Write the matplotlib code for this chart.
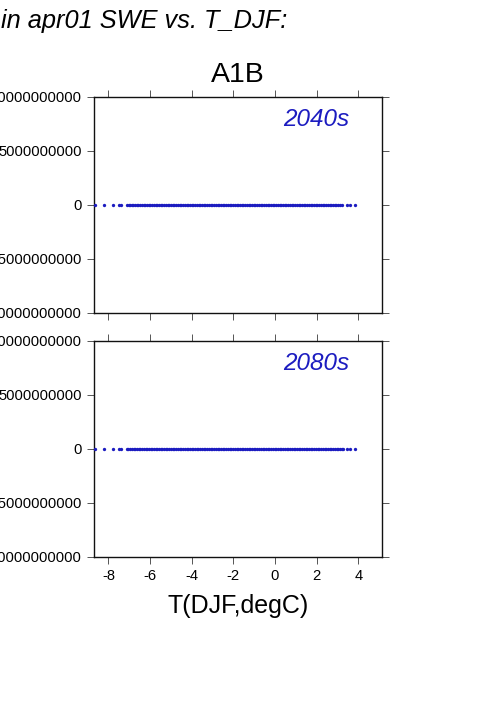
import numpy as np
import matplotlib
matplotlib.use('Agg')
import matplotlib.pyplot as plt

plt.rcParams['font.family'] = ['Liberation Sans', 'DejaVu Sans']

# T_DJF values (degC), SWE change is zero everywhere
t_djf_2040 = [-8.66, -8.21, -7.78, -7.50, -7.38, -7.10, -7.03, -6.95, -6.87, -6.80,
              -6.72, -6.63, -6.56, -6.47, -6.39, -6.31, -6.23, -6.14, -6.06, -5.99,
              -5.90, -5.82, -5.74, -5.65, -5.57, -5.49, -5.41, -5.33, -5.24, -5.16,
              -5.08, -5.00, -4.91, -4.83, -4.75, -4.66, -4.58, -4.51, -4.42, -4.34,
              -4.25, -4.17, -4.09, -4.01, -3.92, -3.84, -3.76, -3.67, -3.59, -3.51,
              -3.43, -3.34, -3.26, -3.18, -3.09, -3.01, -2.93, -2.85, -2.76, -2.68,
              -2.60, -2.51, -2.43, -2.35, -2.27, -2.18, -2.10, -2.02, -1.93, -1.85,
              -1.77, -1.69, -1.60, -1.52, -1.44, -1.35, -1.27, -1.19, -1.11, -1.02,
              -0.94, -0.86, -0.77, -0.69, -0.61, -0.53, -0.44, -0.36, -0.28, -0.19,
              -0.11, -0.03, 0.05, 0.14, 0.22, 0.30, 0.39, 0.47, 0.55, 0.63,
              0.72, 0.80, 0.88, 0.97, 1.05, 1.13, 1.21, 1.30, 1.38, 1.46,
              1.55, 1.63, 1.71, 1.79, 1.88, 1.96, 2.04, 2.13, 2.21, 2.29,
              2.37, 2.46, 2.54, 2.62, 2.71, 2.79, 2.87, 2.95, 3.04, 3.12,
              3.23, 3.44, 3.60, 3.84]
swe_2040 = np.zeros(len(t_djf_2040))

t_djf_2080 = [-8.66, -8.21, -7.78, -7.50, -7.38, -7.12, -7.04, -6.96, -6.88, -6.79,
              -6.71, -6.64, -6.55, -6.47, -6.39, -6.30, -6.22, -6.15, -6.06, -5.98,
              -5.90, -5.81, -5.73, -5.66, -5.57, -5.49, -5.41, -5.32, -5.24, -5.17,
              -5.08, -5.00, -4.92, -4.83, -4.75, -4.67, -4.58, -4.50, -4.42, -4.33,
              -4.25, -4.18, -4.09, -4.01, -3.93, -3.84, -3.76, -3.68, -3.59, -3.51,
              -3.42, -3.34, -3.26, -3.17, -3.09, -3.01, -2.93, -2.84, -2.76, -2.68,
              -2.59, -2.51, -2.43, -2.35, -2.26, -2.18, -2.10, -2.01, -1.93, -1.85,
              -1.76, -1.68, -1.60, -1.52, -1.43, -1.35, -1.27, -1.18, -1.10, -1.02,
              -0.94, -0.85, -0.77, -0.69, -0.60, -0.52, -0.44, -0.36, -0.27, -0.19,
              -0.11, -0.02, 0.06, 0.14, 0.22, 0.31, 0.39, 0.47, 0.56, 0.64,
              0.72, 0.80, 0.89, 0.97, 1.05, 1.14, 1.22, 1.30, 1.38, 1.47,
              1.55, 1.63, 1.72, 1.80, 1.88, 1.96, 2.05, 2.13, 2.21, 2.30,
              2.38, 2.46, 2.54, 2.63, 2.71, 2.79, 2.88, 2.96, 3.04, 3.12,
              3.20, 3.27, 3.44, 3.60, 3.84]
swe_2080 = np.zeros(len(t_djf_2080))

decades = ['2040s', '2080s']
xticks = [-8, -6, -4, -2, 0, 2, 4]
yticks = [-10000000000, -5000000000, 0, 5000000000, 10000000000]
blue = '#1c1cc0'

W, H = 501, 709
fig = plt.figure(figsize=(W / 100, H / 100), dpi=100)

left, right = 93.5, 382
panels = [(97, 313), (341, 557)]
data = [(t_djf_2040, swe_2040), (t_djf_2080, swe_2080)]

for i, ((top, bot), (x, y)) in enumerate(zip(panels, data)):
    ax = fig.add_axes([left / W, 1 - bot / H, (right - left) / W, (bot - top) / H])
    ax.plot(x, y, 'o', ms=2.4, mew=0, color=blue, clip_on=False, zorder=3)
    ax.set_xlim(-8.72, 5.14)
    ax.set_ylim(-10000000000, 10000000000)
    ax.set_xticks(xticks)
    ax.set_yticks(yticks)
    ax.set_yticklabels([str(v) for v in yticks])
    ax.tick_params(direction='out', length=5, width=0.7, color='#555555',
                   top=True, right=True, labelsize=10.6, pad=3.5)
    if i == 0:
        ax.tick_params(labelbottom=False)
    else:
        ax.set_xticklabels([str(v) for v in xticks])
    for s in ax.spines.values():
        s.set_linewidth(1.0)
        s.set_color('#111111')
    ax.text(349 / W, 1 - (top + 23) / H, decades[i], transform=fig.transFigure,
            ha='right', va='center', fontsize=17.5, style='italic', color=blue)

fig.text(287 / W, 1 - 28 / H, 'in apr01 SWE vs. T_DJF:', ha='right', va='baseline',
         fontsize=18.3, style='italic')
fig.text((left + right) / 2 / W, 1 - 82 / H, 'A1B', ha='center', va='baseline',
         fontsize=20.5)
fig.text((left + right) / 2 / W, 1 - 613 / H, 'T(DJF,degC)', ha='center',
         va='baseline', fontsize=18)

fig.savefig('out.png', dpi=100)
